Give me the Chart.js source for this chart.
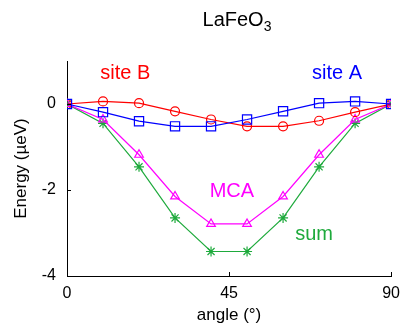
<!DOCTYPE html>
<html>
<head>
<meta charset="utf-8">
<title>LaFeO3 anisotropy</title>
<script src="https://cdn.jsdelivr.net/npm/chart.js"></script>
<style>
  body { margin: 0; background: #fff; }
  canvas { display: block; }
</style>
</head>
<body>
<canvas id="energyChart" width="408" height="330"></canvas>

<script>
    // angle in degrees, energies in micro-eV
    const angles = [0, 10, 20, 30, 40, 50, 60, 70, 80, 90];
    const siteA = [0, -0.19, -0.40, -0.52, -0.52, -0.36, -0.17, 0.02, 0.06, 0];
    const siteB = [0, 0.06, 0.02, -0.17, -0.36, -0.52, -0.52, -0.39, -0.19, 0];
    const mca = [0, -0.36, -1.18, -2.15, -2.79, -2.79, -2.15, -1.18, -0.36, 0];
    const sum = [0, -0.45, -1.46, -2.65, -3.43, -3.43, -2.65, -1.46, -0.45, 0];

    const xTicks = [0, 45, 90];
    const yTicks = [-4, -2, 0];

    // curve labels placed in data units
    const curveLabels = [
        { text: 'site B', x: 16.2, y: 0.70, color: '#ff0000' },
        { text: 'site A', x: 75, y: 0.70, color: '#0000ff' },
        { text: 'MCA', x: 45.8, y: -2.04, color: '#ff00ff' },
        { text: 'sum', x: 68.6, y: -3.04, color: '#1eaa3c' }
    ];

    const FONT = '"Liberation Sans", Arial, Helvetica, sans-serif';

    function pts(ys) {
        return angles.map((a, i) => ({ x: a, y: ys[i] }));
    }

    function series(label, ys, color, style, radius) {
        return {
            label: label,
            data: pts(ys),
            borderColor: color,
            backgroundColor: 'rgba(0,0,0,0)',
            pointBorderColor: color,
            pointBackgroundColor: 'rgba(0,0,0,0)',
            borderWidth: 1.2,
            pointBorderWidth: 1.2,
            pointStyle: style,
            pointRadius: radius,
            fill: false,
            tension: 0
        };
    }

    // inward tick marks, title with subscript, curve labels
    const decorations = {
        id: 'decorations',
        afterDraw(chart) {
            const ctx = chart.ctx;
            const xs = chart.scales.x, ys = chart.scales.y;
            const area = chart.chartArea;
            ctx.save();
            ctx.strokeStyle = '#000';
            ctx.lineWidth = 1;
            ctx.beginPath();
            xTicks.forEach(v => {
                const px = Math.round(xs.getPixelForValue(v)) + 0.5;
                ctx.moveTo(px, area.bottom);
                ctx.lineTo(px, area.bottom - 4);
            });
            yTicks.forEach(v => {
                const py = Math.round(ys.getPixelForValue(v)) + 0.5;
                ctx.moveTo(area.left, py);
                ctx.lineTo(area.left + 4, py);
            });
            ctx.stroke();

            ctx.textBaseline = 'middle';
            ctx.textAlign = 'center';
            ctx.font = '20px ' + FONT;
            curveLabels.forEach(l => {
                ctx.fillStyle = l.color;
                ctx.fillText(l.text, xs.getPixelForValue(l.x), ys.getPixelForValue(l.y));
            });

            // title: LaFeO with subscript 3
            ctx.fillStyle = '#000';
            ctx.textBaseline = 'alphabetic';
            ctx.textAlign = 'left';
            ctx.font = '20px ' + FONT;
            const main = 'LaFeO';
            const w1 = ctx.measureText(main).width;
            ctx.font = '14px ' + FONT;
            const w2 = ctx.measureText('3').width;
            const x0 = 237 - (w1 + w2) / 2;
            ctx.font = '20px ' + FONT;
            ctx.fillText(main, x0, 26);
            ctx.font = '14px ' + FONT;
            ctx.fillText('3', x0 + w1, 31);
            ctx.restore();
        }
    };

    const ctx = document.getElementById('energyChart');
    const chart = new Chart(ctx, {
        type: 'line',
        data: {
            datasets: [
                series('site A', siteA, '#0000ff', 'rect', 6.5),
                series('site B', siteB, '#ff0000', 'circle', 4.5),
                series('MCA', mca, '#ff00ff', 'triangle', 5),
                series('sum', sum, '#1eaa3c', 'star', 5)
            ]
        },
        options: {
            responsive: false,
            animation: false,
            layout: { padding: { top: 61, right: 13, left: 0, bottom: 0 } },
            plugins: {
                legend: { display: false },
                tooltip: { enabled: false }
            },
            scales: {
                x: {
                    type: 'linear',
                    min: 0,
                    max: 90,
                    afterBuildTicks: s => { s.ticks = xTicks.map(v => ({ value: v })); },
                    afterFit: s => { s.height = 54; },
                    grid: { display: true, drawOnChartArea: false, drawTicks: false },
                    border: { color: '#000', width: 1 },
                    ticks: { color: '#000', font: { family: FONT, size: 16 }, padding: 8, maxRotation: 0 },
                    title: { display: true, text: 'angle (°)', color: '#000', font: { family: FONT, size: 17 }, padding: { top: 8 } }
                },
                y: {
                    min: -4,
                    max: 1,
                    afterBuildTicks: s => { s.ticks = yTicks.map(v => ({ value: v })); },
                    afterFit: s => { s.width = 67; },
                    grid: { display: true, drawOnChartArea: false, drawTicks: false },
                    border: { color: '#000', width: 1 },
                    ticks: { color: '#000', font: { family: FONT, size: 16 }, padding: 11 },
                    title: { display: true, text: 'Energy (µeV)', color: '#000', font: { family: FONT, size: 17 }, padding: { top: 11, bottom: 0 } }
                }
            }
        },
        plugins: [decorations]
    });
</script>
</body>
</html>
